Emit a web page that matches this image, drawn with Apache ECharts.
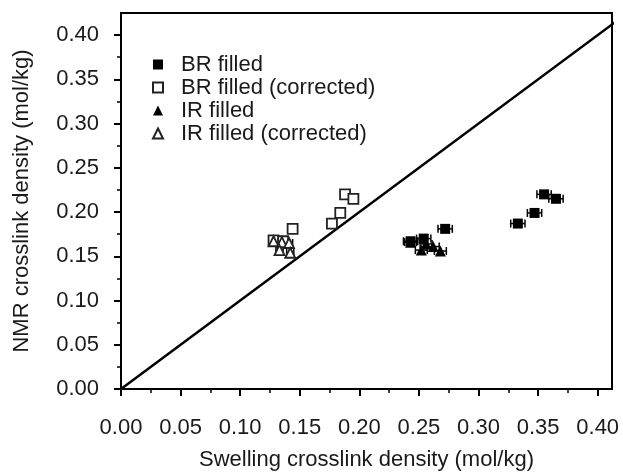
<!DOCTYPE html>
<html><head><meta charset="utf-8">
<script src="https://cdn.jsdelivr.net/npm/echarts@6/dist/echarts.min.js"></script>
<style>html,body{margin:0;padding:0;background:#fff}#c{width:623px;height:472px}</style>
</head><body><div id="c"></div>
<script>
// Data: [swelling crosslink density, NMR crosslink density, x error]
const brFilled = [[0.243,0.167,0.006],[0.254,0.170,0.006],[0.272,0.181,0.006],[0.333,0.187,0.006],[0.347,0.199,0.006],[0.355,0.220,0.006],[0.365,0.215,0.006]];
const irFilled = [[0.243,0.166,0.005],[0.252,0.157,0.005],[0.256,0.164,0.005],[0.262,0.161,0.005],[0.268,0.156,0.005]];
const brCorr = [[0.128,0.168,0.003],[0.136,0.167,0.003],[0.144,0.181,0.003],[0.177,0.187,0.003],[0.184,0.199,0.003],[0.188,0.220,0.003],[0.195,0.215,0.003]];
const irCorr = [[0.128,0.167,0.003],[0.135,0.166,0.003],[0.141,0.165,0.003],[0.133,0.157,0.003],[0.142,0.154,0.003]];
const tickVals = [0,0.05,0.10,0.15,0.20,0.25,0.30,0.35,0.40];
const identityLine = [[0,0],[0.45,0.45]];
const seriesNames = ['BR filled','BR filled (corrected)','IR filled','IR filled (corrected)'];

const font = 'Arial, "Liberation Sans", sans-serif';
function errSeries(data){
  return {type:'custom', silent:true, z:1, data:data.map(d=>[d[0],d[1],d[2]]),
    renderItem:function(p,api){
      const x=api.value(0), y=api.value(1), e=api.value(2);
      const a=api.coord([x-e,y]), b=api.coord([x+e,y]);
      const h=4;
      return {type:'group',children:[
        {type:'line',shape:{x1:a[0],y1:a[1],x2:b[0],y2:b[1]},style:{stroke:'#000',lineWidth:1.5}},
        {type:'line',shape:{x1:a[0],y1:a[1]-h,x2:a[0],y2:a[1]+h},style:{stroke:'#000',lineWidth:1.5}},
        {type:'line',shape:{x1:b[0],y1:b[1]-h,x2:b[0],y2:b[1]+h},style:{stroke:'#000',lineWidth:1.5}}
      ]};
    }};
}
const axisCommon = {
  min:0, interval:0.05,
  axisLine:{show:true,onZero:false,lineStyle:{color:'#000',width:2}},
  axisTick:{show:true,inside:false,length:7,lineStyle:{color:'#000',width:2},customValues:tickVals},
  minorTick:{show:true,splitNumber:2,length:4,lineStyle:{color:'#000',width:1.5}},
  splitLine:{show:false},
  axisLabel:{color:'#1a1a1a',fontSize:22,fontFamily:font,formatter:v=>v.toFixed(2),customValues:tickVals},
  nameLocation:'middle', nameTextStyle:{color:'#1a1a1a',fontSize:22,fontFamily:font}
};
const chart = echarts.init(document.getElementById('c'));
chart.setOption({
  animation:false,
  backgroundColor:'#fff',
  grid:{left:121,right:11,top:13,bottom:83,show:true,borderColor:'#000',borderWidth:2,containLabel:false,outerBoundsMode:'none'},
  legend:{left:147,top:48,orient:'vertical',itemGap:0,itemWidth:10,itemHeight:10,
    textStyle:{fontSize:22,lineHeight:23,fontFamily:font,color:'#1a1a1a',padding:[0,0,0,13]},data:seriesNames},
  xAxis:Object.assign({},axisCommon,{max:0.412,name:'Swelling crosslink density (mol/kg)',nameGap:60,
    axisLabel:Object.assign({},axisCommon.axisLabel,{margin:28})}),
  yAxis:Object.assign({},axisCommon,{max:0.425,name:'NMR crosslink density (mol/kg)',nameGap:88,
    axisLabel:Object.assign({},axisCommon.axisLabel,{margin:22})}),
  series:[
    {type:'line',data:identityLine,symbol:'none',silent:true,lineStyle:{color:'#000',width:2.5},clip:true,z:0},
    errSeries(brFilled),errSeries(irFilled),errSeries(brCorr),errSeries(irCorr),
    {name:seriesNames[0],type:'scatter',symbol:'rect',symbolSize:10,data:brFilled.map(d=>[d[0],d[1]]),itemStyle:{color:'#000',opacity:1},z:3},
    {name:seriesNames[1],type:'scatter',symbol:'rect',symbolSize:10,data:brCorr.map(d=>[d[0],d[1]]),itemStyle:{color:'#fff',borderColor:'#222',borderWidth:1.8,opacity:1},z:3},
    {name:seriesNames[2],type:'scatter',symbol:'triangle',symbolSize:11,data:irFilled.map(d=>[d[0],d[1]]),itemStyle:{color:'#000',opacity:1},z:4},
    {name:seriesNames[3],type:'scatter',symbol:'triangle',symbolSize:10,data:irCorr.map(d=>[d[0],d[1]]),itemStyle:{color:'#fff',borderColor:'#222',borderWidth:1.8,opacity:1},z:4}
  ]
});
</script></body></html>
